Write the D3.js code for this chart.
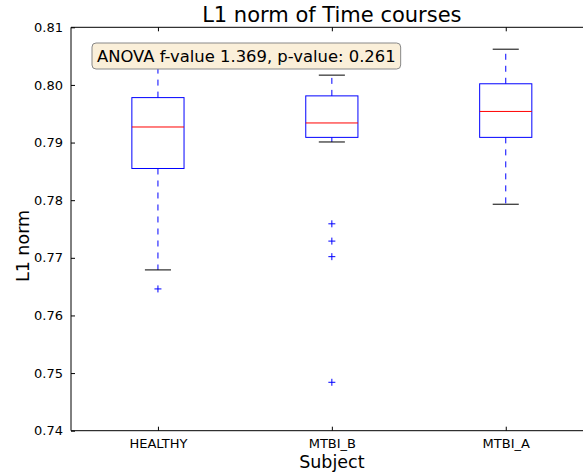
<!DOCTYPE html>
<html>
<head>
<meta charset="utf-8">
<script src="https://cdn.jsdelivr.net/npm/d3@7"></script>
<style>
  html, body { margin: 0; padding: 0; background: #fff; }
  svg { display: block; font-family: "DejaVu Sans", sans-serif; }
</style>
</head>
<body>
<svg id="chart" width="583" height="475"></svg>
<script>
const categories = ["HEALTHY", "MTBI_B", "MTBI_A"];
const whiskerHigh = [0.8029, 0.8017, 0.8062];
const q3Values = [0.7978, 0.7981, 0.8002];
const medians = [0.7927, 0.7934, 0.7954];
const q1Values = [0.7855, 0.7909, 0.7909];
const whiskerLow = [0.7679, 0.7901, 0.7793];
const outliers = [[0.7646], [0.7759, 0.7729, 0.7702, 0.7484], []];
const yTicks = [0.74, 0.75, 0.76, 0.77, 0.78, 0.79, 0.80, 0.81];
const titleText = "L1 norm of Time courses";
const xLabel = "Subject";
const yLabel = "L1 norm";
const annotation = "ANOVA f-value 1.369, p-value: 0.261";

(function () {
const svg = d3.select("#chart");
const mLeft = 71, mTop = 27.3, mBottom = 430.7, mRight = 592.7;

const x = d3.scaleLinear().domain([0.5, 3.5]).range([mLeft, mRight]);
const y = d3.scaleLinear().domain([0.74, 0.81]).range([mBottom, mTop]);
const boxW = x(1.3) - x(1);
const capW = x(1.15) - x(1);

const g = svg.append("g");

categories.forEach((c, i) => {
  const cx = x(i + 1);
  g.append("line").attr("x1", cx).attr("x2", cx)
    .attr("y1", y(q3Values[i])).attr("y2", y(whiskerHigh[i]))
    .attr("stroke", "#0000ff").attr("stroke-width", 1).attr("stroke-dasharray", "6,6");
  g.append("line").attr("x1", cx).attr("x2", cx)
    .attr("y1", y(q1Values[i])).attr("y2", y(whiskerLow[i]))
    .attr("stroke", "#0000ff").attr("stroke-width", 1).attr("stroke-dasharray", "6,6");
  [whiskerHigh[i], whiskerLow[i]].forEach(v => {
    g.append("line").attr("x1", cx - capW / 2).attr("x2", cx + capW / 2)
      .attr("y1", y(v)).attr("y2", y(v))
      .attr("stroke", "#000").attr("stroke-width", 1);
  });
  g.append("rect").attr("x", cx - boxW / 2).attr("width", boxW)
    .attr("y", y(q3Values[i])).attr("height", y(q1Values[i]) - y(q3Values[i]))
    .attr("fill", "none").attr("stroke", "#0000ff").attr("stroke-width", 1);
  g.append("line").attr("x1", cx - boxW / 2).attr("x2", cx + boxW / 2)
    .attr("y1", y(medians[i])).attr("y2", y(medians[i]))
    .attr("stroke", "#ff0000").attr("stroke-width", 1);
  outliers[i].forEach(v => {
    const py = y(v);
    g.append("path").attr("d", `M${cx - 3.5},${py}H${cx + 3.5}M${cx},${py - 3.5}V${py + 3.5}`)
      .attr("stroke", "#0000ff").attr("stroke-width", 1).attr("fill", "none");
  });
});

const spine = (x1, y1, x2, y2) => svg.append("line").attr("x1", x1).attr("y1", y1)
  .attr("x2", x2).attr("y2", y2).attr("stroke", "#000").attr("stroke-width", 1);
spine(mLeft, mTop, mLeft, mBottom);
spine(mLeft, mBottom, mRight, mBottom);
spine(mLeft, mTop, mRight, mTop);
spine(mRight, mTop, mRight, mBottom);

const yAxis = d3.axisLeft(y).tickValues(yTicks).tickFormat(d3.format(".2f"))
  .tickSizeInner(-4).tickSizeOuter(0).tickPadding(8);
const ya = svg.append("g").attr("transform", `translate(${mLeft},0)`).call(yAxis);
ya.select(".domain").remove();
ya.selectAll("text").attr("font-size", 13).attr("fill", "#000").attr("font-family", "DejaVu Sans");
ya.selectAll("line").attr("stroke", "#000");

const xAxis = d3.axisBottom(x).tickValues([1, 2, 3]).tickFormat((d) => categories[d - 1])
  .tickSizeInner(-4).tickSizeOuter(0).tickPadding(8);
const xa = svg.append("g").attr("transform", `translate(0,${mBottom})`).call(xAxis);
xa.select(".domain").remove();
xa.selectAll("text").attr("font-size", 13).attr("fill", "#000").attr("font-family", "DejaVu Sans");
xa.selectAll("line").attr("stroke", "#000");

const xTop = d3.axisTop(x).tickValues([1, 2, 3]).tickFormat("").tickSizeInner(-4).tickSizeOuter(0);
const xt = svg.append("g").attr("transform", `translate(0,${mTop})`).call(xTop);
xt.select(".domain").remove();
xt.selectAll("line").attr("stroke", "#000");

svg.append("text").attr("x", (mLeft + mRight) / 2).attr("y", 22)
  .attr("text-anchor", "middle").attr("font-size", 21).attr("fill", "#000").text(titleText);
svg.append("text").attr("x", (mLeft + mRight) / 2).attr("y", 468)
  .attr("text-anchor", "middle").attr("font-size", 17.5).attr("fill", "#000").text(xLabel);
svg.append("text").attr("transform", `translate(29,246) rotate(-90)`)
  .attr("text-anchor", "middle").attr("font-size", 17.5).attr("fill", "#000").text(yLabel);

const ann = svg.append("g");
const at = ann.append("text").attr("x", 97).attr("y", 61.5)
  .attr("font-size", 16.4).attr("fill", "#000").text(annotation);
const bb = at.node().getBBox();
ann.insert("rect", "text")
  .attr("x", bb.x - 5).attr("y", 43).attr("width", bb.width + 10).attr("height", 26)
  .attr("rx", 4).attr("ry", 4)
  .attr("fill", "#faefd9").attr("stroke", "#888").attr("stroke-width", 1);
})();
</script>
</body>
</html>
